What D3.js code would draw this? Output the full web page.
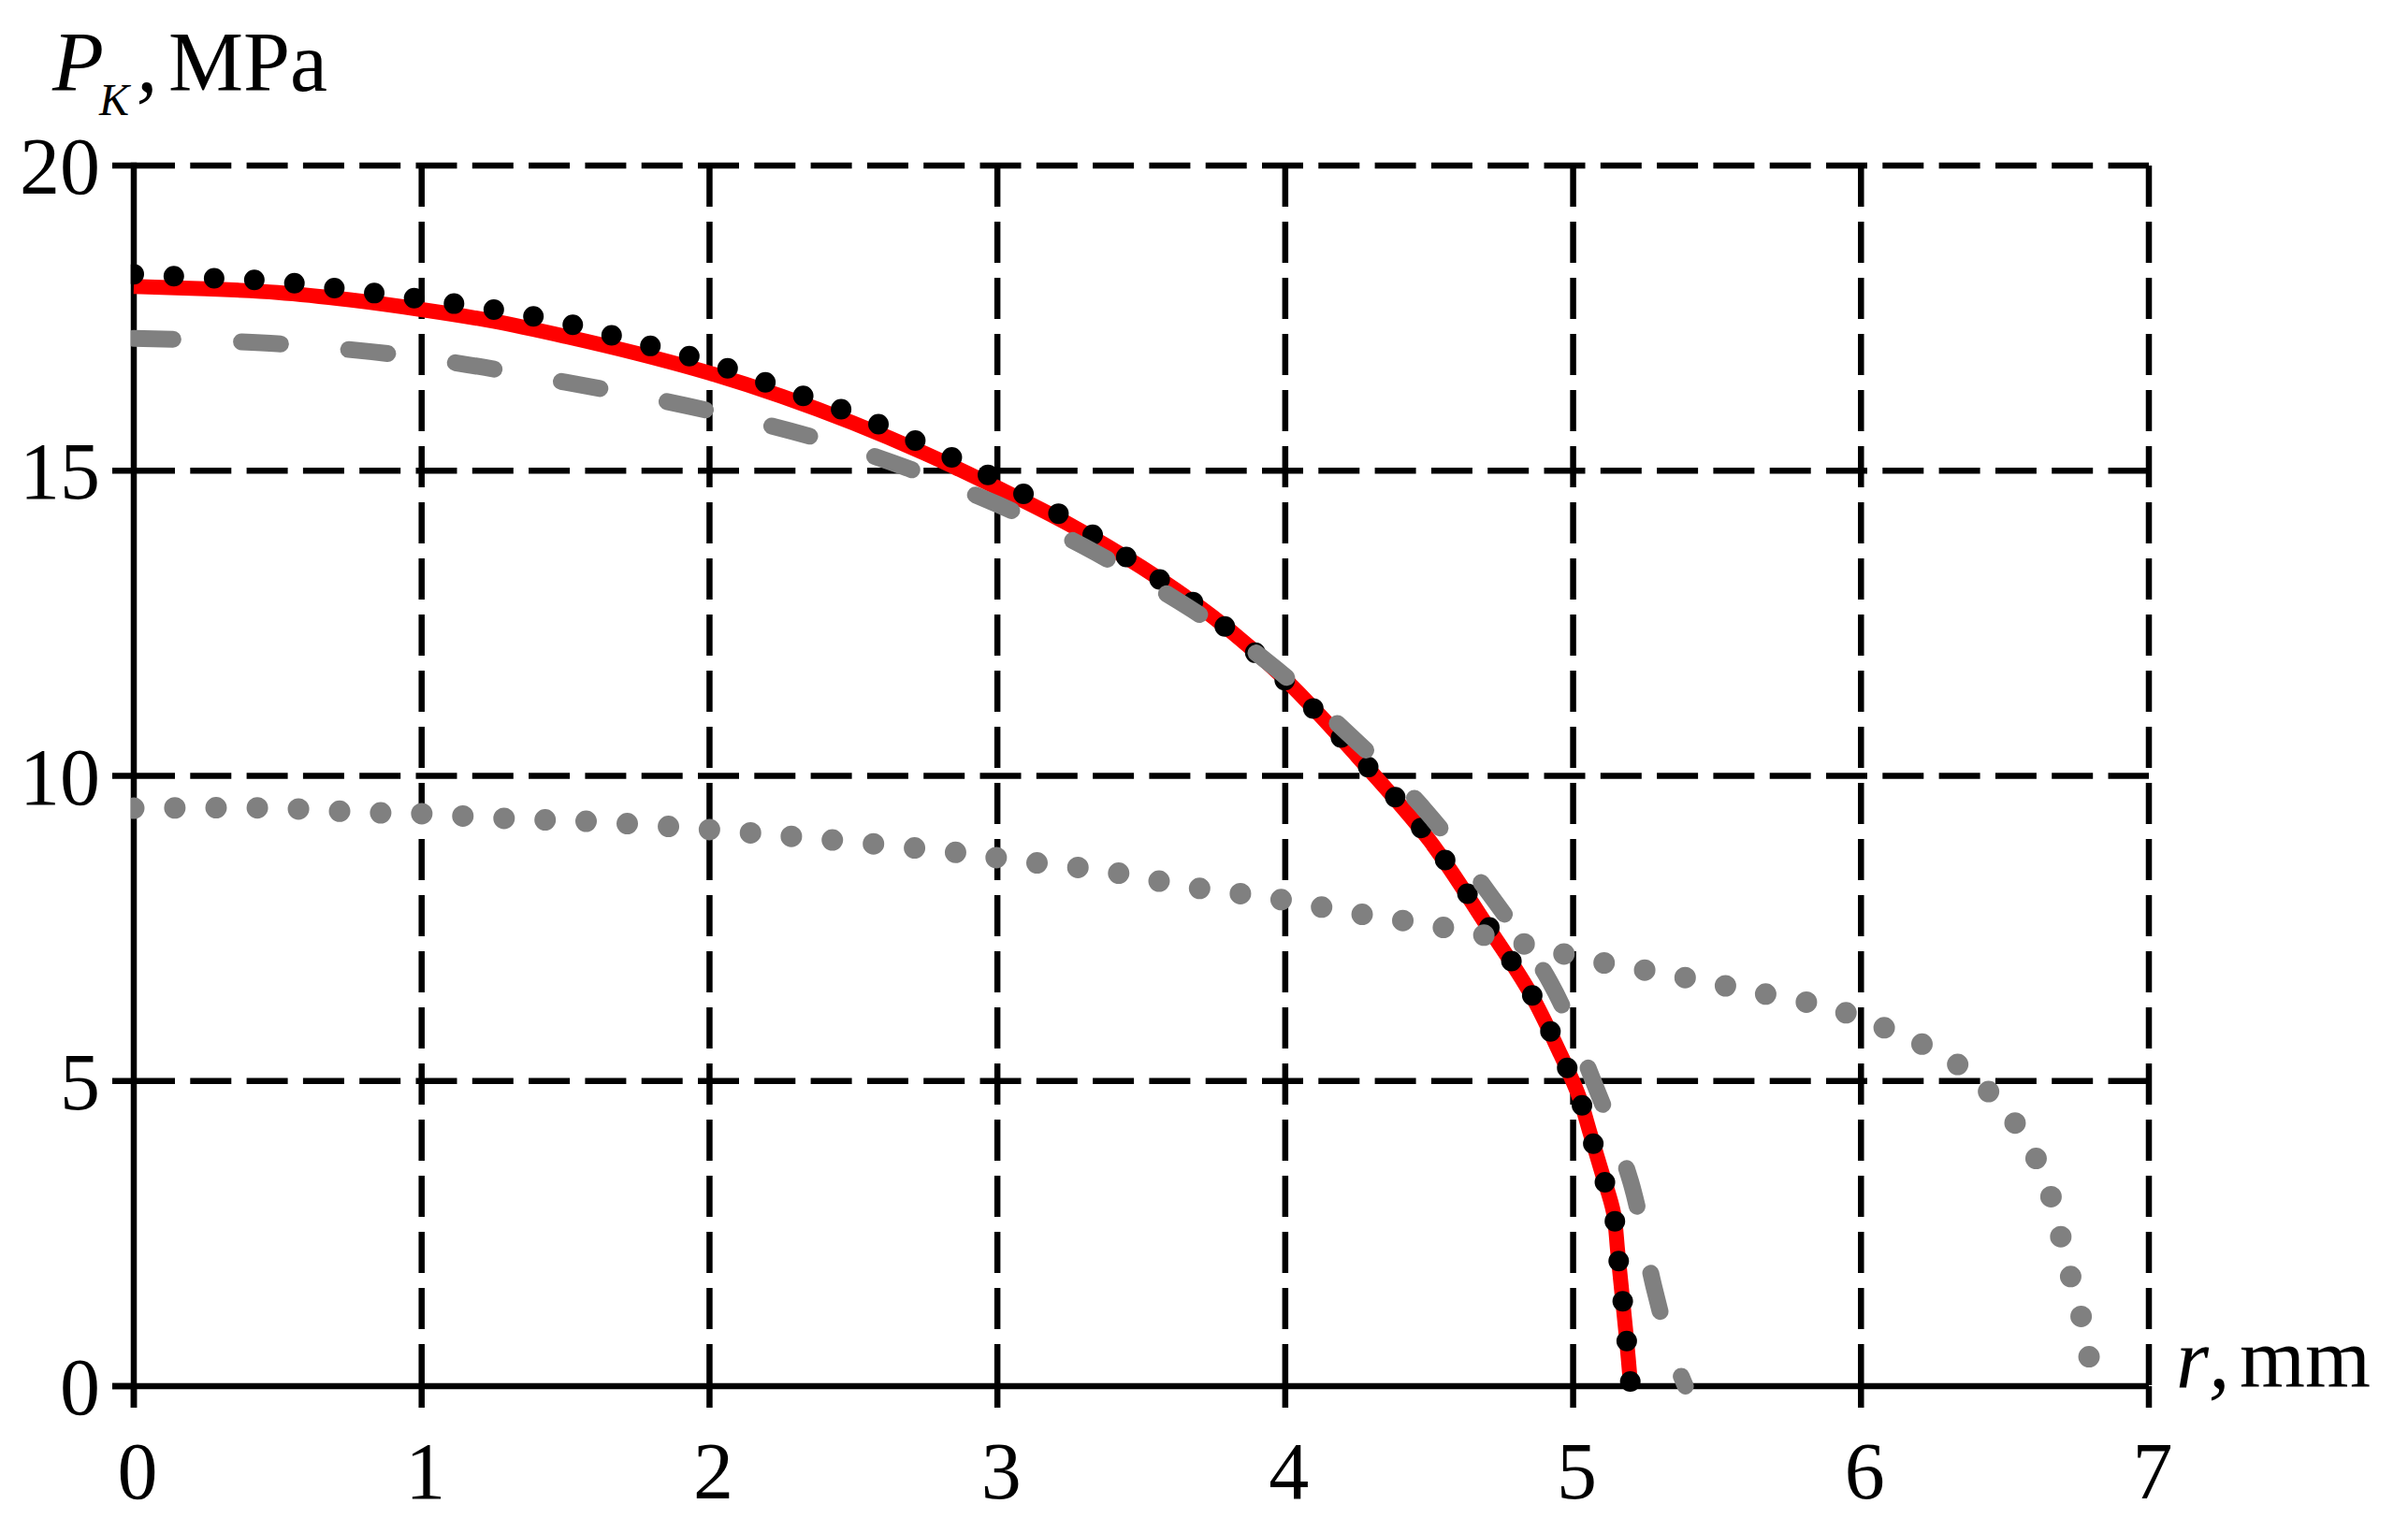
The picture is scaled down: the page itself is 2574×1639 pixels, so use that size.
<!DOCTYPE html>
<html>
<head>
<meta charset="utf-8">
<script src="https://cdn.jsdelivr.net/npm/d3@7"></script>
<style>
  body { margin: 0; background: #fff; }
  text { font-family: "Liberation Serif", "DejaVu Serif", serif; fill: #000; }
</style>
</head>
<body>
<div id="chart"></div>
<script>
var width = 2574
var height = 1639

// ticks
var xTicks = [0, 1, 2, 3, 4, 5, 6, 7]
var yTicks = [0, 5, 10, 15, 20]

// red solid curve [r, P]
var redCurve = [[0, 18.02], [0.25, 17.98], [0.5, 17.92], [0.75, 17.8], [1.0, 17.64], [1.25, 17.45],
    [1.5, 17.2], [1.75, 16.92], [2.0, 16.6], [2.25, 16.22], [2.5, 15.78], [2.75, 15.28], [3.0, 14.72],
    [3.25, 14.12], [3.5, 13.42], [3.75, 12.6], [4.0, 11.58], [4.25, 10.32], [4.5, 8.95], [4.7, 7.55],
    [4.85, 6.45], [4.95, 5.5], [5.02, 4.75], [5.06, 4.13], [5.1, 3.5], [5.14, 2.85], [5.155, 2.2],
    [5.17, 1.5], [5.185, 0.8], [5.2, 0]]

// black dotted curve
var blackDots = [[0, 18.22], [0.25, 18.16], [0.5, 18.1], [0.75, 17.96], [1.0, 17.81], [1.25, 17.64],
    [1.5, 17.42], [1.75, 17.1], [2.0, 16.78], [2.25, 16.35], [2.5, 15.93], [2.75, 15.42], [3.0, 14.85],
    [3.25, 14.19], [3.5, 13.42], [3.75, 12.6], [4.0, 11.56], [4.25, 10.34], [4.5, 8.98], [4.7, 7.58],
    [4.85, 6.47], [4.95, 5.52], [5.02, 4.75], [5.06, 4.13], [5.1, 3.5], [5.14, 2.85], [5.155, 2.2],
    [5.17, 1.5], [5.185, 0.8], [5.2, 0]]

// grey dashed curve
var greyDashed = [[0, 17.17], [0.5, 17.08], [1.0, 16.85], [1.5, 16.45], [2.0, 15.98], [2.5, 15.35],
    [3.0, 14.45], [3.3, 13.76], [3.63, 12.86], [3.93, 11.9], [4.21, 10.73], [4.48, 9.47], [4.71, 8.06],
    [4.92, 6.62], [5.07, 5.0], [5.2, 3.35], [5.28, 1.64], [5.34, 0.6], [5.39, 0]]

// grey dotted curve
var greyDots = [[0, 9.47], [0.5, 9.47], [0.8, 9.4], [1.0, 9.38], [1.3, 9.3], [1.6, 9.25], [2.0, 9.12],
    [2.4, 8.96], [2.83, 8.76], [3.11, 8.59], [3.39, 8.43], [3.67, 8.18], [3.95, 8.0], [4.23, 7.76],
    [4.51, 7.55], [4.79, 7.29], [5.06, 6.98], [5.34, 6.74], [5.62, 6.47], [5.9, 6.19], [6.03, 5.97],
    [6.16, 5.71], [6.29, 5.42], [6.4, 5.02], [6.5, 4.53], [6.58, 3.98], [6.64, 3.39], [6.68, 2.75],
    [6.71, 2.1], [6.75, 1.44], [6.78, 0.79], [6.81, 0]]

var svg = d3.select('#chart').append('svg')
    .attr('width', width)
    .attr('height', height)

svg.append('rect').attr('width', width).attr('height', height).attr('fill', '#fff')

var x = d3.scaleLinear().domain([0, 7]).range([143, 2297])
var y = d3.scaleLinear().domain([0, 20]).range([1482, 177])

var tickLen = 23
var lw = 6.5

// grille pointillée
svg.selectAll('.hgrid')
    .data(yTicks.filter(function (d) { return d > 0 }))
    .enter().append('line')
    .attr('x1', x(0)).attr('x2', x(7))
    .attr('y1', function (d) { return y(d) }).attr('y2', function (d) { return y(d) })
    .attr('stroke', '#000').attr('stroke-width', lw)
    .attr('stroke-dasharray', '44,16.3')

svg.selectAll('.vgrid')
    .data(xTicks.filter(function (d) { return d > 0 }))
    .enter().append('line')
    .attr('x1', function (d) { return x(d) }).attr('x2', function (d) { return x(d) })
    .attr('y1', y(20)).attr('y2', y(0))
    .attr('stroke', '#000').attr('stroke-width', lw)
    .attr('stroke-dasharray', '44,16')

// petits traits des graduations
svg.selectAll('.ytick')
    .data(yTicks)
    .enter().append('line')
    .attr('x1', x(0) - tickLen).attr('x2', x(0))
    .attr('y1', function (d) { return y(d) }).attr('y2', function (d) { return y(d) })
    .attr('stroke', '#000').attr('stroke-width', lw)

svg.selectAll('.xtick')
    .data(xTicks)
    .enter().append('line')
    .attr('x1', function (d) { return x(d) }).attr('x2', function (d) { return x(d) })
    .attr('y1', y(0)).attr('y2', y(0) + tickLen)
    .attr('stroke', '#000').attr('stroke-width', lw)

// axes
svg.append('line')
    .attr('x1', x(0) - tickLen).attr('x2', x(7))
    .attr('y1', y(0)).attr('y2', y(0))
    .attr('stroke', '#000').attr('stroke-width', lw)
svg.append('line')
    .attr('x1', x(0)).attr('x2', x(0))
    .attr('y1', y(20) - lw / 2).attr('y2', y(0) + tickLen)
    .attr('stroke', '#000').attr('stroke-width', lw)

// libellés des graduations
svg.selectAll('.ylab')
    .data(yTicks)
    .enter().append('text')
    .attr('x', 107)
    .attr('y', function (d) { return y(d) + 30 })
    .attr('text-anchor', 'end')
    .attr('font-size', 86)
    .text(function (d) { return d })

svg.selectAll('.xlab')
    .data(xTicks)
    .enter().append('text')
    .attr('x', function (d) { return x(d) + 4 })
    .attr('y', 1602)
    .attr('text-anchor', 'middle')
    .attr('font-size', 86)
    .text(function (d) { return d })

// titres des axes
svg.append('text').attr('x', 56).attr('y', 97).attr('font-size', 90)
    .attr('font-style', 'italic').text('P')
svg.append('text').attr('x', 106).attr('y', 123).attr('font-size', 48)
    .attr('font-style', 'italic').text('K')
svg.append('text').attr('x', 146).attr('y', 97).attr('font-size', 90)
    .attr('font-style', 'italic').text(',')
svg.append('text').attr('x', 180).attr('y', 97).attr('font-size', 90).text('MPa')

svg.append('text').attr('x', 2326).attr('y', 1483).attr('font-size', 90)
    .attr('font-style', 'italic').text('r')
svg.append('text').attr('x', 2361).attr('y', 1483).attr('font-size', 90)
    .attr('font-style', 'italic').text(',')
svg.append('text').attr('x', 2394).attr('y', 1483).attr('font-size', 90).text('mm')

// zone de tracé (les points du bord gauche sont coupés)
svg.append('clipPath').attr('id', 'plot')
    .append('rect')
    .attr('x', x(0) - lw / 2).attr('y', y(20))
    .attr('width', x(7) - x(0) + lw).attr('height', y(0) - y(20) + 12)

var line = d3.line()
    .x(function (d) { return x(d[0]) })
    .y(function (d) { return y(d[1]) })
    .curve(d3.curveCatmullRom.alpha(0.5))

var g = svg.append('g').attr('clip-path', 'url(#plot)')

g.append('path').datum(redCurve)
    .attr('d', line).attr('fill', 'none')
    .attr('stroke', '#ff0000').attr('stroke-width', 16)

g.append('path').datum(blackDots)
    .attr('d', line).attr('fill', 'none')
    .attr('stroke', '#000').attr('stroke-width', 22)
    .attr('stroke-linecap', 'round')
    .attr('stroke-dasharray', '0,43')

g.append('path').datum(greyDashed)
    .attr('d', line).attr('fill', 'none')
    .attr('stroke', '#808080').attr('stroke-width', 18)
    .attr('stroke-linecap', 'round')
    .attr('stroke-dasharray', '42,73')

g.append('path').datum(greyDots)
    .attr('d', line).attr('fill', 'none')
    .attr('stroke', '#808080').attr('stroke-width', 23)
    .attr('stroke-linecap', 'round')
    .attr('stroke-dasharray', '0,44')
</script>
</body>
</html>
